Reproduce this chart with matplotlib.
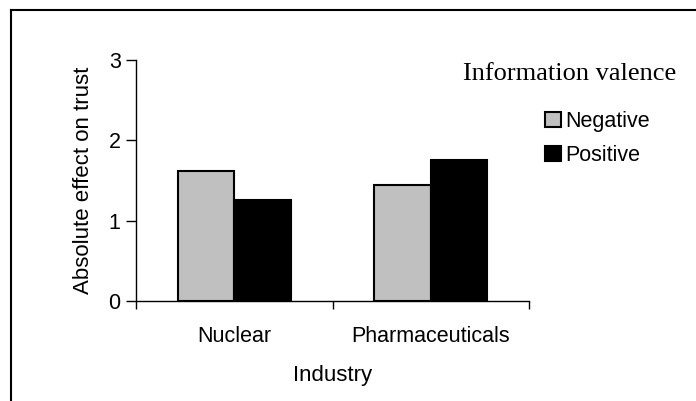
import matplotlib
matplotlib.use("Agg")
import matplotlib.pyplot as plt
from matplotlib.lines import Line2D
from matplotlib.patches import Patch

industries = ["Nuclear", "Pharmaceuticals"]
negative = [1.62, 1.45]
positive = [1.26, 1.75]
series_labels = ["Negative", "Positive"]
series_colors = ["#C0C0C0", "#000000"]
y_ticks = [0, 1, 2, 3]

sans = "Liberation Sans"
serif = "Liberation Serif"

fig = plt.figure(figsize=(6.96, 4.01), dpi=100)
ax = fig.add_axes([136 / 696, 1 - 301 / 401, (529 - 136) / 696, (301 - 60) / 401])

width = 0.2875
x = list(range(len(industries)))
ax.bar([i - width / 2 for i in x], negative, width, color=series_colors[0],
       edgecolor="black", linewidth=1.5, label=series_labels[0])
ax.bar([i + width / 2 for i in x], positive, width, color=series_colors[1],
       edgecolor="black", linewidth=1.5, label=series_labels[1])

ax.set_xlim(-0.5, len(industries) - 0.5)
ax.set_ylim(0, 3)
ax.set_yticks(y_ticks)
ax.set_yticklabels([str(t) for t in y_ticks], fontfamily=sans, fontsize=15.5)
ax.set_xticks(x)
ax.set_xticklabels(industries, fontfamily=sans, fontsize=15.5)
ax.set_xticks([-0.5, 0.5, 1.5], minor=True)
ax.tick_params(axis="x", which="major", length=0, pad=18)
ax.tick_params(axis="x", which="minor", length=6, width=1, direction="out")
ax.tick_params(axis="y", length=7, width=1, direction="out", pad=4)

for side in ("top", "right"):
    ax.spines[side].set_visible(False)
for side in ("left", "bottom"):
    ax.spines[side].set_linewidth(1)
    ax.spines[side].set_color("black")

ax.set_ylabel("Absolute effect on trust", fontfamily=sans, fontsize=16, labelpad=10.5)
ax.set_xlabel("Industry", fontfamily=sans, fontsize=16, labelpad=13)

# legend with a serif title placed above it
fig.text(569.5 / 696, 1 - 74 / 401, "Information valence", fontfamily=serif,
         fontsize=19, ha="center", va="center")
handles = [Patch(facecolor=c, edgecolor="black", linewidth=1.5) for c in series_colors]
fig.legend(handles, series_labels, loc="upper left",
           bbox_to_anchor=(545 / 696, 1 - 111 / 401), frameon=False,
           prop={"family": sans, "size": 15.5}, handlelength=0.75,
           handleheight=0.75, handletextpad=0.2, labelspacing=0.6,
           borderaxespad=0, borderpad=0)

# frame lines along the left and top edges of the figure
fig.add_artist(Line2D([10.5 / 696, 10.5 / 696], [0, 1 - 9.5 / 401],
                      transform=fig.transFigure, color="black", linewidth=1.5))
fig.add_artist(Line2D([10.5 / 696, 1], [1 - 9.5 / 401, 1 - 9.5 / 401],
                      transform=fig.transFigure, color="black", linewidth=1.5))

fig.savefig("out.png", dpi=100)
